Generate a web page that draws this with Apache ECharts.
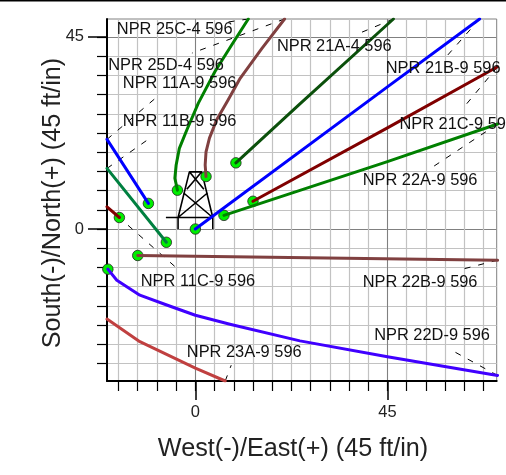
<!DOCTYPE html>
<html><head><meta charset="utf-8">
<style>html,body{margin:0;padding:0;background:#fff}#c{width:506px;height:475px}</style>
<script src="https://cdn.jsdelivr.net/npm/echarts@6/dist/echarts.min.js"></script>
</head><body><div id="c"></div>
<script>
const xMin=-20.7,xMax=70.6,yMin=-35.6,yMax=49.2;
const xMinorTicks=[-18,-13.5,-9,-4.5,0,4.5,9,13.5,18,22.5,27,31.5,36,40.5,45,49.5,54,58.5,63,67.5];
const yMinorTicks=[-31.5,-27,-22.5,-18,-13.5,-9,-4.5,0,4.5,9,13.5,18,22.5,27,31.5,36,40.5,45];
const majorTicks=[0,45];

const w21A=[[9.5,15.5],[24.5,29.3],[46.4,49.2]];
const w21B=[[0,0],[45,33.3],[66.6,49.2]];
const w21C=[[13.5,6.5],[45,23.7],[70.8,38]];
const w22A=[[6.7,3.2],[45,15.8],[70.8,24.6]];
const w22B=[[-13.5,-6.2],[70.8,-7.3]];
const w22D=[[-20.5,-9.4],[-18.4,-12],[-13,-15.5],[-6.7,-17.8],[0,-20.2],[8.1,-22.3],[24.5,-26.2],[45,-29.9],[70.8,-34.3]];
const w23A=[[-20.7,-21.1],[-13,-26.4],[0,-32.6],[7,-35.6]];
const w25C=[[-4.2,9.1],[-4.8,11.9],[-4.5,15],[-3.75,18.9],[-2,23.2],[0.7,29.5],[4.6,36.9],[8.5,43.1],[12.4,49.2]];
const w25D=[[2.5,12.3],[2.3,15],[2.5,18.1],[3.3,21.3],[5,25.6],[7.7,30.3],[10.5,35.3],[15.6,42.3],[20.9,49.2]];
const w11A=[[-11,6],[-20.7,21]];
const w11B=[[-6.8,-3.1],[-20.7,14.2]];
const w11C=[[-17.8,2.7],[-20.7,5.2]];

const wells=[
 [w21A,'#0b500b',true],[w21B,'#0000ff',true],[w21C,'#800000',true],[w22A,'#008000',true],
 [w22B,'#804040',true],[w22D,'#4000ff',true],[w23A,'#c04040',false],[w25C,'#008000',true],
 [w25D,'#804040',true],[w11A,'#0000ff',true],[w11B,'#008040',true],[w11C,'#800000',true]
];

const leaders=[
 [[20.9,49.2],[-0.8,41.2]],[[12.4,49.2],[7.7,48.5]],[[-20.7,21],[-8.7,31.2]],[[-20.7,14.2],[-10.2,21.6]],
 [[-20.7,5.2],[-4.2,-9.3]],[[46.4,49.2],[37.8,45.6]],[[66.6,49.2],[58.9,40.5]],[[70.8,38],[62.7,28.3]],
 [[70.8,24.6],[55.4,14.4]],[[70.8,-7.3],[61.8,-9.6]],[[70.8,-34.3],[59.5,-28.1]],[[7,-35.6],[8.4,-31.9]]
];

const labelTexts=['NPR 25C-4 596','NPR 25D-4 596','NPR 11A-9 596','NPR 11B-9 596','NPR 21A-4 596','NPR 21B-9 596','NPR 21C-9 596','NPR 22A-9 596','NPR 11C-9 596','NPR 22B-9 596','NPR 22D-9 596','NPR 23A-9 596'];
const labelPoints=[[-18.4,46.8],[-20.4,38.4],[-17,34.1],[-17,25.1],[19.1,42.7],[44.6,37.7],[47.8,24.5],[39.2,11.4],[-12.8,-12.4],[39.2,-12.6],[41.9,-24.9],[-2,-28.9]];

const derrick=[[-4.05,0],[-4.05,2.7],[-1.4,13.4],[1.5,13.4],[4.08,2.7],[4.08,0],null,
 [-6.9,2.7],[4.08,2.7],[-2.8,8.5],null,[-4.05,2.7],[2.9,8.5],null,
 [-1.4,13.4],[2,9.3],null,[1.5,13.4],[-2,9.3]];

const series=[];
series.push({type:'line',data:derrick.map(p=>p||[null,null]),connectNulls:false,showSymbol:false,symbol:'none',silent:true,z:3,
  lineStyle:{color:'#000',width:1.6},animation:false});
leaders.forEach(l=>series.push({type:'line',data:l,symbol:'none',z:3,animation:false,lineStyle:{color:'#000',width:1,type:[6,8]}}));
series.push({type:'scatter',data:wells.filter(w=>w[2]).map(w=>w[0][0]),symbol:'circle',symbolSize:10.5,z:4,animation:false,
  itemStyle:{color:'#00ee00',borderColor:'#222',borderWidth:0.8,opacity:1}});
wells.forEach(w=>series.push({type:'line',data:w[0],symbol:'none',z:5,animation:false,lineStyle:{color:w[1],width:3,join:'round',cap:'round'}}));
series.push({type:'scatter',symbolSize:0,z:6,animation:false,
  data:labelPoints.map((p,i)=>({value:p,name:labelTexts[i]})),
  label:{show:true,position:'right',distance:0,formatter:'{b}',color:'#111',opacity:1,fontFamily:'Liberation Sans',fontSize:16.4}});

const ch=echarts.init(document.getElementById('c'),null,{renderer:'canvas'});
ch.setOption({
 animation:false,backgroundColor:'#fff',
 grid:{left:107,right:9.3,top:19,bottom:94,containLabel:false,show:true,borderColor:'#808080',borderWidth:1,backgroundColor:'transparent'},
 graphic:[
  {type:'rect',shape:{x:0,y:0,width:506,height:1.5},style:{fill:'#000'},z:10},
  {type:'text',x:293,y:449,style:{text:'West(-)/East(+) (45 ft/in)',fill:'#222',font:'25.2px "Liberation Sans"',align:'center',verticalAlign:'middle'},z:10},
  {type:'text',x:53,y:203,rotation:Math.PI/2,style:{text:'South(-)/North(+) (45 ft/in)',fill:'#222',font:'25.2px "Liberation Sans"',align:'center',verticalAlign:'middle'},z:10}
 ],
 xAxis:[
  {type:'value',min:xMin,max:xMax,position:'bottom',
   axisLine:{show:true,onZero:false,lineStyle:{color:'#000',width:2}},
   axisTick:{show:true,length:10,customValues:xMinorTicks,lineStyle:{color:'#000',width:1.2}},
   axisLabel:{show:false},
   splitLine:{show:true,lineStyle:{color:'#c2c2c2',width:1.2}}},
  {type:'value',min:xMin,max:xMax,position:'bottom',
   axisLine:{show:false,onZero:false},
   axisTick:{show:true,length:19,customValues:majorTicks,lineStyle:{color:'#000',width:1.5}},
   axisLabel:{show:true,customValues:majorTicks,margin:23,color:'#222',fontFamily:'Liberation Sans',fontSize:16.5},
   splitLine:{show:true,lineStyle:{color:'#808080',width:1}}}
 ],
 yAxis:[
  {type:'value',min:yMin,max:yMax,position:'left',
   axisLine:{show:true,onZero:false,lineStyle:{color:'#000',width:2}},
   axisTick:{show:true,length:10,customValues:yMinorTicks,lineStyle:{color:'#000',width:1.2}},
   axisLabel:{show:false},
   splitLine:{show:true,lineStyle:{color:'#c2c2c2',width:1.2}}},
  {type:'value',min:yMin,max:yMax,position:'left',
   axisLine:{show:false,onZero:false},
   axisTick:{show:true,length:19,customValues:majorTicks,lineStyle:{color:'#000',width:1.5}},
   axisLabel:{show:true,customValues:majorTicks,margin:23,color:'#222',fontFamily:'Liberation Sans',fontSize:16.5},
   splitLine:{show:true,lineStyle:{color:'#808080',width:1}}}
 ],
 series:series
});
</script></body></html>
